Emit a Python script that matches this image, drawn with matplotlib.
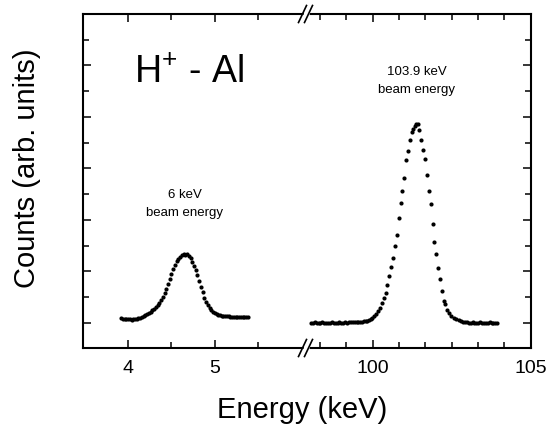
import matplotlib
matplotlib.use('Agg')
import matplotlib.pyplot as plt
from matplotlib.ticker import MultipleLocator, FixedLocator, NullFormatter
from matplotlib.lines import Line2D
from matplotlib.patches import Polygon

plt.rcParams['font.family'] = ['Liberation Sans', 'DejaVu Sans']
plt.rcParams['mathtext.fontset'] = 'custom'
plt.rcParams['mathtext.rm'] = 'Liberation Sans'
plt.rcParams['mathtext.it'] = 'Liberation Sans'

# 6 keV beam: energy (keV) and counts (arb. units)
low_energy = [3.92, 3.94, 3.96, 3.98, 4.00, 4.02, 4.04, 4.06, 4.08, 4.10,
              4.12, 4.14, 4.16, 4.18, 4.20, 4.22, 4.24, 4.26, 4.28, 4.30,
              4.32, 4.34, 4.36, 4.38, 4.40, 4.42, 4.44, 4.46, 4.48, 4.50,
              4.52, 4.54, 4.56, 4.58, 4.60, 4.62, 4.64, 4.66, 4.68, 4.70,
              4.72, 4.74, 4.76, 4.78, 4.80, 4.82, 4.84, 4.86, 4.88, 4.90,
              4.92, 4.94, 4.96, 4.98, 5.00, 5.02, 5.04, 5.06, 5.08, 5.10,
              5.12, 5.14, 5.16, 5.18, 5.20, 5.22, 5.24, 5.26, 5.28, 5.30,
              5.32, 5.34, 5.36, 5.38]
low_counts = [0.09, 0.08, 0.08, 0.07, 0.07, 0.07, 0.06, 0.07, 0.07, 0.08,
              0.09, 0.10, 0.11, 0.13, 0.15, 0.17, 0.19, 0.21, 0.24, 0.27,
              0.30, 0.34, 0.39, 0.44, 0.50, 0.58, 0.66, 0.76, 0.86, 0.95,
              1.04, 1.13, 1.20, 1.24, 1.28, 1.31, 1.34, 1.32, 1.33, 1.29,
              1.25, 1.19, 1.11, 1.02, 0.92, 0.81, 0.70, 0.59, 0.48, 0.40,
              0.34, 0.29, 0.24, 0.21, 0.19, 0.17, 0.16, 0.15, 0.14, 0.14,
              0.13, 0.13, 0.13, 0.12, 0.12, 0.12, 0.12, 0.12, 0.11, 0.12,
              0.11, 0.11, 0.11, 0.11]

# 103.9 keV beam
high_energy = [98.05, 98.11, 98.17, 98.23, 98.29, 98.35, 98.41, 98.47, 98.53, 98.59,
               98.65, 98.71, 98.77, 98.83, 98.89, 98.95, 99.01, 99.07, 99.13, 99.19,
               99.25, 99.31, 99.37, 99.43, 99.49, 99.55, 99.61, 99.67, 99.73, 99.78,
               99.83, 99.88, 99.94, 99.99, 100.05, 100.11, 100.18, 100.23, 100.29, 100.35,
               100.41, 100.46, 100.53, 100.59, 100.64, 100.70, 100.76, 100.82, 100.89, 100.94,
               100.99, 101.05, 101.12, 101.19, 101.24, 101.29, 101.33, 101.38, 101.42, 101.475,
               101.53, 101.59, 101.65, 101.71, 101.77, 101.84, 101.90, 101.95, 102.00, 102.07,
               102.13, 102.19, 102.25, 102.29, 102.35, 102.42, 102.49, 102.56, 102.64, 102.72,
               102.80, 102.86, 102.92, 102.98, 103.04, 103.10, 103.16, 103.22, 103.28, 103.34,
               103.40, 103.46, 103.52, 103.58, 103.64, 103.70, 103.76, 103.82, 103.88, 103.94]
high_counts = [0.00, 0.00, 0.01, 0.00, 0.00, 0.00, 0.01, 0.00, 0.00, 0.00,
               0.00, 0.01, 0.00, 0.00, 0.00, 0.01, 0.00, 0.00, 0.01, 0.00,
               0.01, 0.01, 0.01, 0.01, 0.01, 0.01, 0.015, 0.02, 0.025, 0.03,
               0.04, 0.055, 0.072, 0.097, 0.135, 0.18, 0.232, 0.29, 0.38, 0.478,
               0.586, 0.741, 0.903, 1.089, 1.263, 1.489, 1.702, 2.037, 2.334, 2.566,
               2.805, 3.159, 3.34, 3.546, 3.708, 3.766, 3.817, 3.868, 3.87, 3.739,
               3.559, 3.366, 3.191, 2.863, 2.566, 2.308, 1.921, 1.573, 1.329, 1.064,
               0.845, 0.619, 0.426, 0.362, 0.257, 0.193, 0.141, 0.097, 0.072, 0.045,
               0.025, 0.015, 0.01, 0.01, 0.00, 0.00, 0.01, 0.00, 0.00, 0.00,
               0.01, 0.00, 0.00, 0.00, 0.00, 0.01, 0.00, 0.00, 0.00, 0.00]

fig = plt.figure(figsize=(5.46, 4.30), dpi=100)
ax1 = fig.add_axes([0.1520, 0.1907, 0.4066, 0.7767])
ax2 = fig.add_axes([0.5586, 0.1907, 0.4134, 0.7767])

for ax in (ax1, ax2):
    ax.set_ylim(-0.49, 6.0)
    ax.yaxis.set_major_locator(MultipleLocator(1))
    ax.yaxis.set_minor_locator(MultipleLocator(0.5))
    ax.yaxis.set_major_formatter(NullFormatter())
    for s in ax.spines.values():
        s.set_linewidth(1.5)
    ax.tick_params(which='both', direction='in', top=True, width=1.1, labelsize=14, pad=9)
    ax.tick_params(which='major', length=6)
    ax.tick_params(which='minor', length=4)

ax1.plot(low_energy, low_counts, 'o', color='black', markersize=3.0, markeredgewidth=0)
ax1.set_xlim(3.48, 6.04)
ax1.xaxis.set_major_locator(FixedLocator([4, 5]))
ax1.xaxis.set_minor_locator(FixedLocator([4.5, 5.5]))
ax1.spines['right'].set_visible(False)
ax1.tick_params(which='both', right=False)

ax2.plot(high_energy, high_counts, 'o', color='black', markersize=3.0, markeredgewidth=0)
ax2.set_xlim(97.86, 105.0)
ax2.xaxis.set_major_locator(MultipleLocator(5))
ax2.xaxis.set_minor_locator(MultipleLocator(5 / 6))
ax2.spines['left'].set_visible(False)
ax2.tick_params(which='both', left=False, right=True)

# axis break marks
W, H = 546, 430
def px(x, y):
    return (x / W, 1 - y / H)

for yb in (14, 348):
    gap = Polygon([px(302, yb + 8), px(308, yb + 8), px(311.5, yb - 8), px(305.5, yb - 8)],
                  closed=True, transform=fig.transFigure, facecolor='white',
                  edgecolor='none', zorder=5)
    fig.add_artist(gap)
    for dx in (0, 6):
        p0 = px(298.5 + dx, yb + 8.5)
        p1 = px(306.5 + dx, yb - 8.5)
        fig.add_artist(Line2D([p0[0], p1[0]], [p0[1], p1[1]], transform=fig.transFigure,
                              color='black', linewidth=1.2, zorder=6))

fig.text(0.246, 0.807, r'H$^{+}$ - Al', fontsize=27, ha='left', va='baseline')
ax1.text(4.654, 2.48, '6 keV', fontsize=9.5, ha='center', va='center')
ax1.text(4.654, 2.13, 'beam energy', fontsize=9.5, ha='center', va='center')
ax2.text(101.39, 4.87, '103.9 keV', fontsize=9.5, ha='center', va='center')
ax2.text(101.39, 4.53, 'beam energy', fontsize=9.5, ha='center', va='center')

fig.text(0.049, 0.608, 'Counts (arb. units)', fontsize=21, rotation=90, ha='center', va='center')
fig.text(0.554, 0.0465, 'Energy (keV)', fontsize=21, ha='center', va='center')

fig.savefig('out.png', dpi=100)
